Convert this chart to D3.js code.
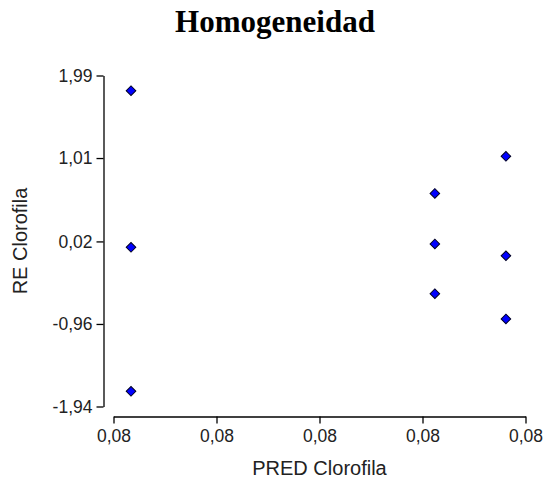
<!DOCTYPE html>
<html>
<head>
<meta charset="utf-8">
<script src="https://cdn.jsdelivr.net/npm/d3@7"></script>
<style>
  body { margin: 0; background: #fff; }
  svg { display: block; }
  .tick text { font-family: "Liberation Sans", Arial, sans-serif; font-size: 17.5px; fill: #222; }
  .domain, .tick line { stroke: #000; stroke-width: 1.3px; }
</style>
</head>
<body>
<svg id="chart" width="546" height="481"></svg>
<script>
// valores
var predClorofila = [0.08017, 0.08017, 0.08017, 0.08312, 0.08312, 0.08312, 0.08381, 0.08381, 0.08381];
var reClorofila   = [1.81, -0.05, -1.76, 0.59, -0.01, -0.60, 1.03, -0.15, -0.90];

var xTicks = [0.0800, 0.0810, 0.0820, 0.0830, 0.0840];
var yTicks = [-1.94, -0.96, 0.02, 1.01, 1.99];

var titulo = "Homogeneidad";
var xTitulo = "PRED Clorofila";
var yTitulo = "RE Clorofila";

var svg = d3.select("#chart");

var x = d3.scaleLinear().domain([0.0800, 0.0840]).range([113.5, 525.5]);
var y = d3.scaleLinear().domain([-1.94, 1.99]).range([406.5, 75.5]);

// formato con coma decimal y guion normal
var es = d3.formatLocale({decimal: ",", thousands: ".", grouping: [3], currency: ["", " €"], minus: "-"});
var fmt = es.format(".2f");

svg.append("g")
	.attr("transform", "translate(0,416.5)")
	.call(d3.axisBottom(x).tickValues(xTicks).tickSize(7).tickSizeOuter(0).tickPadding(6).tickFormat(fmt));

svg.append("g")
	.attr("transform", "translate(103.5,0)")
	.call(d3.axisLeft(y).tickValues(yTicks).tickSize(7).tickSizeOuter(0).tickPadding(4).tickFormat(fmt));

svg.selectAll(".tick text").attr("fill", null);

var puntos = d3.range(predClorofila.length).map(function(i){
	return {x: predClorofila[i], y: reClorofila[i]};
});

svg.append("g").selectAll("path")
	.data(puntos)
	.enter()
	.append("path")
	.attr("d", d3.symbol(d3.symbolSquare, 46))
	.attr("transform", function(d){ return "translate(" + x(d.x) + "," + y(d.y) + ") rotate(45)"; })
	.attr("fill", "#0000ff")
	.attr("stroke", "#000022")
	.attr("stroke-width", 1);

svg.append("text")
	.attr("x", 275)
	.attr("y", 31.5)
	.attr("text-anchor", "middle")
	.style("font-family", "'Liberation Serif', 'Times New Roman', serif")
	.style("font-weight", "bold")
	.style("font-size", "31px")
	.text(titulo);

svg.append("text")
	.attr("x", 319.5)
	.attr("y", 475)
	.attr("text-anchor", "middle")
	.style("font-family", "'Liberation Sans', Arial, sans-serif")
	.style("font-size", "20px")
	.attr("fill", "#222")
	.text(xTitulo);

svg.append("text")
	.attr("transform", "translate(27,241) rotate(-90)")
	.attr("text-anchor", "middle")
	.style("font-family", "'Liberation Sans', Arial, sans-serif")
	.style("font-size", "20px")
	.attr("fill", "#222")
	.text(yTitulo);
</script>
</body>
</html>
